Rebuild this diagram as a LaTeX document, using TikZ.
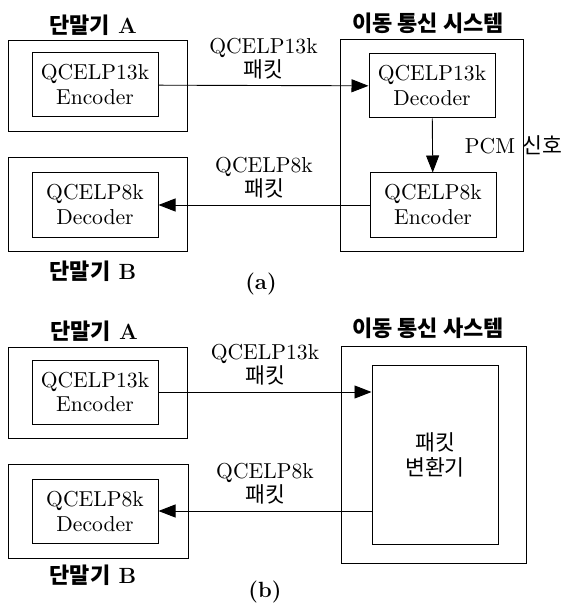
\documentclass[tikz,border=0pt]{standalone}
\usepackage{fontspec}
\newfontfamily\kr{Noto Sans CJK KR}
\usetikzlibrary{arrows.meta}

\begin{document}
\begin{tikzpicture}[x=.5pt,y=-.5pt,
    box/.style={draw,line width=.5pt,align=center,inner sep=0pt,minimum width=63pt,minimum height=32pt,font=\fontsize{10.8}{12.5}\selectfont},
    frame/.style={draw,line width=.5pt},
    arr/.style={line width=.45pt,-{Triangle[length=8.5pt,width=6.5pt]}},
    lbl/.style={align=center,inner sep=1pt,font=\fontsize{10.8}{11}\selectfont},
    ttl/.style={inner sep=1pt,font=\fontsize{11}{13}\selectfont\bfseries}]
  \useasboundingbox (0,0) rectangle (565,604);
    \begin{scope}[shift={(0,0)}]
      \draw[frame](8,41) rectangle (187,132);
      \draw[frame](8,158) rectangle (187,251);
      \draw[frame](340,40) rectangle (523,251);
      \node[ttl] (termA) at (93,25) {{\kr 단말기} A};
      \node[ttl] (termB) at (93,271) {{\kr 단말기} B};
      \node[ttl] (sys) at (428,23) {\kr 이동 통신 시스템};
      \node[ttl] (capa) at (261,284) {(a)};
      \node[box] (enc13) at (95,85) {QCELP13k\\Encoder};
      \node[box] (dec8) at (95,205) {QCELP8k\\Decoder};
      \node[box] (dec13) at (432,86) {QCELP13k\\Decoder};
      \node[box] (enc8) at (433,205) {QCELP8k\\Encoder};
      \draw[arr](enc13)--(dec13)node[midway,above=2pt,lbl]{QCELP13k\\{\kr 패킷}};
      \draw[arr](enc8)--(dec8)node[midway,above=2pt,lbl]{QCELP8k\\{\kr 패킷}};
      \draw[arr](dec13)--(enc8)node[midway,right=15pt,lbl]{PCM {\kr 신호}};
    \end{scope}
    \begin{scope}[shift={(0,306)}]
      \draw[frame](8,41) rectangle (187,132);
      \draw[frame](8,158) rectangle (188,252);
      \draw[frame](341,40) rectangle (526,257);
      \node[ttl] (termAb) at (94,25) {{\kr 단말기} A};
      \node[ttl] (termBb) at (93,269) {{\kr 단말기} B};
      \node[ttl] (sysb) at (428,22) {\kr 이동 통신 사스템};
      \node[ttl] (capb) at (265,286) {(b)};
      \node[box] (enc13b) at (95,86) {QCELP13k\\Encoder};
      \node[box] (dec8b) at (95,205) {QCELP8k\\Decoder};
      \node[box,minimum height=89.5pt] (conv) at (435,148.5) {{\kr 패킷}\\{\kr 변환기}};
      \draw[arr](enc13b)--(enc13b-|conv.west)node[midway,above=2pt,lbl]{QCELP13k\\{\kr 패킷}};
      \draw[arr](conv.west|-dec8b)--(dec8b)node[midway,above=2pt,lbl]{QCELP8k\\{\kr 패킷}};
    \end{scope}
\end{tikzpicture}
\end{document}
